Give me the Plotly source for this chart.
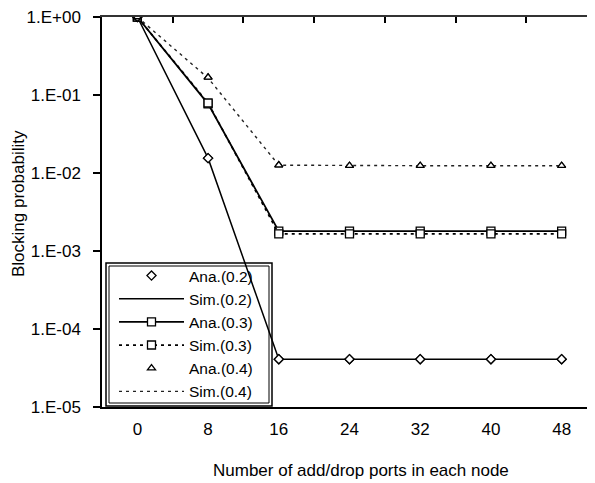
import plotly.graph_objects as go

ports = [0, 8, 16, 24, 32, 40, 48]
ana_02 = [1.0, 1.55e-2, 4.1e-5, 4.1e-5, 4.1e-5, 4.1e-5, 4.1e-5]
sim_02 = [1.0, 1.55e-2, 4.1e-5, 4.1e-5, 4.1e-5, 4.1e-5, 4.1e-5]
ana_03 = [1.0, 7.7e-2, 1.8e-3, 1.8e-3, 1.8e-3, 1.8e-3, 1.8e-3]
sim_03 = [1.0, 7.9e-2, 1.66e-3, 1.66e-3, 1.66e-3, 1.66e-3, 1.66e-3]
ana_04 = [1.0, 0.168, 1.26e-2, 1.24e-2, 1.24e-2, 1.24e-2, 1.24e-2]
sim_04 = [1.0, 0.165, 1.26e-2, 1.24e-2, 1.24e-2, 1.24e-2, 1.24e-2]

y_tickvals = [1, 1e-1, 1e-2, 1e-3, 1e-4, 1e-5]
y_ticktext = ["1.E+00", "1.E-01", "1.E-02", "1.E-03", "1.E-04", "1.E-05"]
x_tickvals = ports
boundary_ticks = [-4, 4, 12, 20, 28, 36, 44, 52]
x_title = "Number of add/drop ports in each node"
y_title = "Blocking probability"

FONT = "Liberation Sans, Arial, sans-serif"
# the page body has an 8px default margin; plot area on page: x 102..597, y 17..407
OFF = 8
PL, PT, W, H = 102, 17, 495, 390          # plot area in page pixels
ml, mt = PL - OFF, PT - OFF
mr = 595 - ml - W
mb = 483 - mt - H


def px(xp):
    return (xp - PL) / W


def py(yp):
    return (PT + H - yp) / H


fig = go.Figure()

fig.add_trace(go.Scatter(x=ports, y=ana_02, mode="markers", name="Ana.(0.2)",
                         marker=dict(symbol="diamond", size=7, color="white",
                                     line=dict(color="black", width=1.3))))
fig.add_trace(go.Scatter(x=ports, y=sim_02, mode="lines", name="Sim.(0.2)",
                         line=dict(color="black", width=1.5)))
fig.add_trace(go.Scatter(x=ports, y=ana_03, mode="lines+markers", name="Ana.(0.3)",
                         line=dict(color="black", width=1.8),
                         marker=dict(symbol="square", size=8, color="white",
                                     line=dict(color="black", width=1.3))))
fig.add_trace(go.Scatter(x=ports, y=sim_03, mode="lines+markers", name="Sim.(0.3)",
                         line=dict(color="black", width=1.7, dash="3px,4px"),
                         marker=dict(symbol="square", size=8, color="white",
                                     line=dict(color="black", width=1.3))))
fig.add_trace(go.Scatter(x=ports, y=ana_04, mode="markers", name="Ana.(0.4)",
                         marker=dict(symbol="triangle-up", size=7, color="white",
                                     line=dict(color="black", width=1.3))))
fig.add_trace(go.Scatter(x=ports, y=sim_04, mode="lines", name="Sim.(0.4)",
                         line=dict(color="#222", width=1.4, dash="3px,4px")))
# redraw diamond/triangle markers on top of lines (hidden from legend)
fig.add_trace(go.Scatter(x=ports, y=ana_02, mode="markers", showlegend=False,
                         marker=dict(symbol="diamond", size=7, color="white",
                                     line=dict(color="black", width=1.3))))
fig.add_trace(go.Scatter(x=ports, y=ana_04, mode="markers", showlegend=False,
                         marker=dict(symbol="triangle-up", size=7, color="white",
                                     line=dict(color="black", width=1.3))))
# dummy trace to anchor top axis
fig.add_trace(go.Scatter(x=[0], y=[1], xaxis="x2", mode="markers",
                         marker=dict(opacity=0), showlegend=False, hoverinfo="skip"))

fig.update_layout(
    width=595, height=483,
    margin=dict(l=ml, r=mr, t=mt, b=mb, autoexpand=False),
    paper_bgcolor="white", plot_bgcolor="white",
    font=dict(family=FONT, size=17, color="black"),
    showlegend=True,
    legend=dict(x=px(114), y=py(259), xanchor="left", yanchor="top",
                bgcolor="rgba(0,0,0,0)", borderwidth=0,
                font=dict(family=FONT, size=15.5, color="black"),
                itemwidth=65, tracegroupgap=0),
    xaxis=dict(range=[-4, 52], tickvals=x_tickvals, showgrid=False, zeroline=False,
               showline=True, linecolor="black", linewidth=1.5, ticks="",
               ticklabelstandoff=6, tickfont=dict(size=17)),
    xaxis2=dict(range=[-4, 52], overlaying="x", side="top", anchor="y",
                tickvals=boundary_ticks, showticklabels=False, ticks="inside",
                ticklen=6, tickwidth=1.5, tickcolor="black",
                showline=True, linecolor="#333", linewidth=2, showgrid=False, zeroline=False),
    yaxis=dict(type="log", range=[-5, 0], tickvals=y_tickvals, ticktext=y_ticktext,
               showgrid=False, zeroline=False, showline=True, linecolor="black",
               linewidth=1.5, ticks="outside", ticklen=7, tickwidth=1.5, tickcolor="black",
               ticklabelstandoff=9, tickfont=dict(size=17), ticklabeloverflow="allow"),
    annotations=[
        dict(text=x_title, xref="paper", yref="paper", x=px(361), y=py(470),
             xanchor="center", yanchor="middle", showarrow=False, font=dict(size=17)),
        dict(text=y_title, xref="paper", yref="paper", x=px(19), y=py(204),
             xanchor="center", yanchor="middle", textangle=-90, showarrow=False,
             font=dict(size=17)),
    ],
    shapes=[
        dict(type="rect", xref="paper", yref="paper",
             x0=px(106), x1=px(272), y0=py(406), y1=py(263),
             line=dict(color="black", width=1.5)),
        dict(type="rect", xref="paper", yref="paper",
             x0=px(109), x1=px(269), y0=py(403), y1=py(266),
             line=dict(color="black", width=1)),
    ],
)

fig.write_html("out.html")
